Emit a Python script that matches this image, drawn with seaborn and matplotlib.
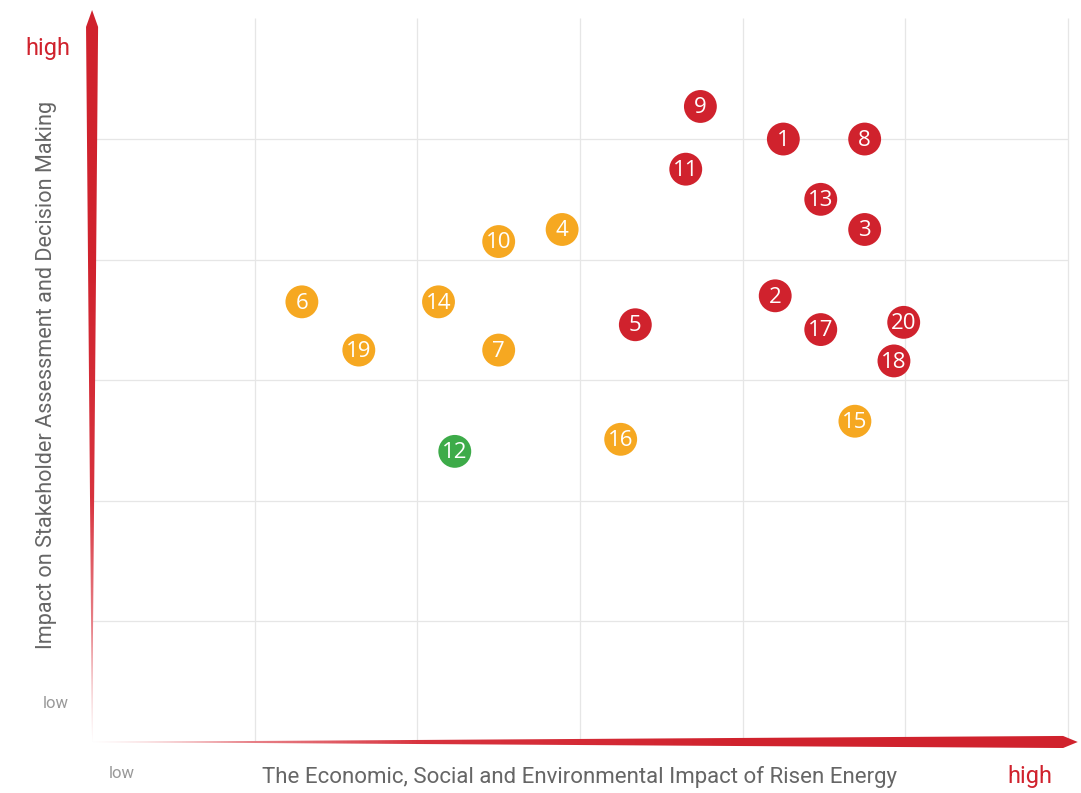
import numpy as np
import pandas as pd
import matplotlib
matplotlib.use("Agg")
import matplotlib.pyplot as plt
import seaborn as sns
from matplotlib.patches import Polygon
from matplotlib.colors import LinearSegmentedColormap

# topic numbers and their position in the materiality matrix
labels = [9, 1, 8, 11, 13, 3, 4, 10, 2, 6, 14, 5, 17, 20, 19, 7, 18, 15, 16, 12]
impact_x = [3.74, 4.25, 4.75, 3.65, 4.48, 4.75, 2.89, 2.50, 4.20, 1.29,
            2.13, 3.34, 4.48, 4.99, 1.64, 2.50, 4.93, 4.69, 3.25, 2.23]
impact_y = [5.27, 5.00, 5.00, 4.75, 4.50, 4.25, 4.25, 4.15, 3.70, 3.65,
            3.65, 3.46, 3.42, 3.48, 3.25, 3.25, 3.16, 2.66, 2.51, 2.41]
level = ["high", "high", "high", "high", "high", "high", "mid", "mid", "high", "mid",
         "mid", "high", "high", "high", "mid", "mid", "high", "mid", "mid", "low"]
palette = {"high": "#d0222d", "mid": "#f6a821", "low": "#3dab49"}

df = pd.DataFrame({"x": impact_x, "y": impact_y, "level": level, "label": labels})

sns.set_style("white")
fig = plt.figure(figsize=(10.81, 7.93), dpi=100)
ax = fig.add_axes([0, 0, 1, 1])
ax.axis("off")

# grid
grid_x = [1, 2, 3, 4, 5, 6]
grid_y = [1, 2, 3, 4, 5]
ax.vlines(grid_x, 0, 6, color="#e6e6e6", lw=0.9, zorder=0)
ax.hlines(grid_y, 0, 6, color="#e6e6e6", lw=0.9, zorder=0)

# tapered red arrows with a light gradient at the origin
grad_cmap = LinearSegmentedColormap.from_list("arr", ["#f6c9cc", "#d8333e", "#d0222d", "#d0222d"])

def taper_arrow(verts, horizontal):
    poly = Polygon(verts, closed=True, facecolor="none", edgecolor="none")
    ax.add_patch(poly)
    g = np.linspace(0, 1, 256)
    img = g[None, :] if horizontal else g[:, None]
    xs = [v[0] for v in verts]
    ys = [v[1] for v in verts]
    im = ax.imshow(img, cmap=grad_cmap, extent=[min(xs), max(xs), min(ys), max(ys)],
                   origin="lower", aspect="auto", zorder=1, interpolation="bilinear")
    im.set_clip_path(poly)

hw_v = 0.037
taper_arrow([(0, 0), (hw_v, 5.92), (hw_v, 5.93), (0, 6.07), (-hw_v, 5.93), (-hw_v, 5.92)], False)
hw_h = 0.05
taper_arrow([(0, 0), (5.96, hw_h), (5.97, hw_h), (6.06, 0), (5.97, -hw_h), (5.96, -hw_h)], True)
ax.set_xlim(-0.566, 6.080)
ax.set_ylim(-0.423, 6.153)

sns.scatterplot(data=df, x="x", y="y", hue="level", palette=palette, s=560,
                edgecolor="none", legend=False, ax=ax, zorder=3)
for _, r in df.iterrows():
    ax.text(r["x"], r["y"] - 0.01, str(r["label"]), color="white", fontsize=16,
            family=["Open Sans", "DejaVu Sans"], ha="center", va="center", zorder=4)

cond = ["Roboto", "DejaVu Sans"]
fig.text(580 / 1081, 1 - 777 / 793, "The Economic, Social and Environmental Impact of Risen Energy",
         color="#666666", fontsize=16, family=cond, ha="center", va="center")
fig.text(47 / 1081, 1 - 375 / 793, "Impact on Stakeholder Assessment and Decision Making",
         color="#666666", fontsize=15.6, family=cond, ha="center", va="center", rotation=90)
fig.text(1030 / 1081, 1 - 777 / 793, "high", color="#d0222d", fontsize=17, family=cond,
         ha="center", va="center")
fig.text(48 / 1081, 1 - 49 / 793, "high", color="#d0222d", fontsize=17, family=cond,
         ha="center", va="center")
fig.text(56 / 1081, 1 - 703 / 793, "low", color="#999999", fontsize=12, family=cond,
         ha="center", va="center")
fig.text(122 / 1081, 1 - 774 / 793, "low", color="#999999", fontsize=12, family=cond,
         ha="center", va="center")

fig.savefig("out.png", dpi=100, facecolor="white")
